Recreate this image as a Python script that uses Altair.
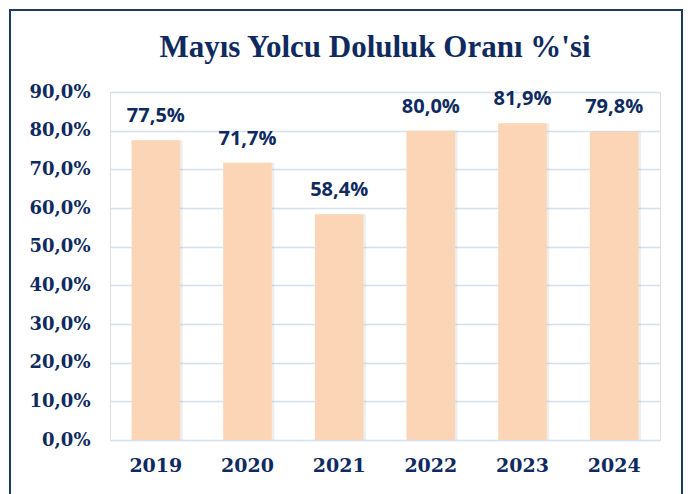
import altair as alt
import pandas as pd

years = ["2019", "2020", "2021", "2022", "2023", "2024"]
values = [77.5, 71.7, 58.4, 80.0, 81.9, 79.8]
y_ticks = [0, 10, 20, 30, 40, 50, 60, 70, 80, 90]
title_text = "Mayıs Yolcu Doluluk Oranı %'si"

NAVY = "#0E2A5E"
BAR = "#FBD5B5"
GRID = "#D3E0F0"

df = pd.DataFrame({"year": years, "value": values})

x_enc = alt.X("year:N", title=None, sort=years,
              scale=alt.Scale(paddingInner=0.47, paddingOuter=0.235),
              axis=alt.Axis(labelAngle=0, labelFont="DejaVu Serif", labelFontWeight="bold",
                            labelFontSize=19, labelColor=NAVY, labelPadding=16,
                            ticks=False, domain=False, grid=False))
y_enc = alt.Y("value:Q", title=None,
              scale=alt.Scale(domain=[0, 90], nice=False),
              axis=alt.Axis(values=y_ticks, labelFont="DejaVu Serif", labelFontWeight="bold",
                            labelFontSize=18, labelColor=NAVY, labelPadding=20,
                            labelExpr="replace(format(datum.value, '.1f'), '.', ',') + '%'",
                            ticks=False, domain=False, grid=True, gridColor=GRID,
                            gridWidth=1.5))

base = alt.Chart(df)

shadow = base.mark_bar(color="#9aa3ad", opacity=0.18, xOffset=2.5).encode(x=x_enc, y=y_enc)
bars = base.mark_bar(color=BAR).encode(x=x_enc, y=y_enc)
labels = base.transform_calculate(
    lbl="replace(format(datum.value, '.1f'), '.', ',') + '%'"
).mark_text(font="Open Sans", fontWeight="bold", fontSize=20, color=NAVY, dy=-18,
            baseline="alphabetic").encode(x=x_enc, y=y_enc, text="lbl:N")

one = alt.Data(values=[{"t": title_text}])

title = alt.Chart(one).mark_text(
    font="Liberation Serif", fontWeight="bold", fontSize=31, color=NAVY,
    baseline="alphabetic", align="center"
).encode(x=alt.value(265), y=alt.value(-35), text="t:N")

border = alt.Chart(one).mark_rect(
    fillOpacity=0, stroke="#1F3864", strokeWidth=2
).encode(x=alt.value(-100), x2=alt.value(572), y=alt.value(-82), y2=alt.value(420))

chart = alt.layer(shadow, bars, labels, title, border).properties(
    width=550, height=348,
    autosize=alt.AutoSizeParams(type="none"),
    padding={"left": 102, "top": 84, "right": 24, "bottom": 54},
).configure_view(stroke=None).configure(background="white")

chart.save("out.html", embed_options={"renderer": "svg", "actions": False})
